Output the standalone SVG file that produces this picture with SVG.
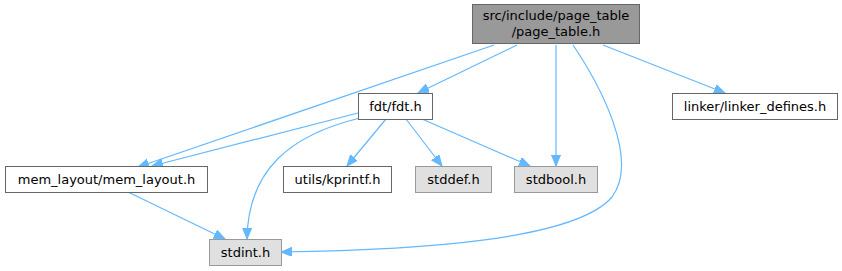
<svg xmlns="http://www.w3.org/2000/svg" width="842" height="271" viewBox="0 0 842 271">
<style>
.e{fill:none;stroke:#63b8ff;stroke-width:1.2;marker-end:url(#ah)}
.n rect{fill:#ffffff;stroke:#666666;stroke-width:1}
.g rect{fill:#e0e0e0;stroke:#999999;stroke-width:1}
.t rect{fill:#999999;stroke:#666666;stroke-width:1}
text{font-family:"DejaVu Sans","Liberation Sans",sans-serif;font-size:13px;fill:#000000;text-anchor:middle}
</style>
<defs>
<marker id="ah" markerUnits="userSpaceOnUse" markerWidth="12" markerHeight="10" refX="11" refY="4.5" orient="auto">
<path d="M0,0 L11,4.5 L0,9 z" fill="#63b8ff" stroke="#63b8ff" stroke-width="1"/>
</marker>
</defs>
<rect width="842" height="271" fill="#ffffff"/>
<g id="edges">
<path class="e" d="M494,45 L138,167"/>
<path class="e" d="M517,45 L418,93"/>
<path class="e" d="M573,45 C600,85 640,160 612,197 C575,240 420,250 281,252"/>
<path class="e" d="M556,45 L556,166"/>
<path class="e" d="M603,45 L725,93"/>
<path class="e" d="M358,113 L152,166"/>
<path class="e" d="M360,118 C290,135 248,170 247,239"/>
<path class="e" d="M386,119 L347,166"/>
<path class="e" d="M406,119 L442,166"/>
<path class="e" d="M422,119 L530,166"/>
<path class="e" d="M128,192 L225,239"/>
</g>
<g id="node_page_table" class="t"><rect x="472.5" y="4.5" width="167" height="39"/><text x="556" y="20">src/include/page_table</text><text x="556" y="36">/page_table.h</text></g>
<g id="node_fdt" class="n"><rect x="358.5" y="93.5" width="74" height="26"/><text x="395.5" y="111">fdt/fdt.h</text></g>
<g id="node_linker" class="n"><rect x="672.5" y="93.5" width="165" height="26"/><text x="755" y="111">linker/linker_defines.h</text></g>
<g id="node_mem_layout" class="n"><rect x="5.5" y="166.5" width="202" height="26"/><text x="106.5" y="184">mem_layout/mem_layout.h</text></g>
<g id="node_kprintf" class="n"><rect x="283.5" y="166.5" width="108" height="26"/><text x="337.5" y="184">utils/kprintf.h</text></g>
<g id="node_stddef" class="g"><rect x="415.5" y="166.5" width="76" height="26"/><text x="453.5" y="184">stddef.h</text></g>
<g id="node_stdbool" class="g"><rect x="514.5" y="166.5" width="83" height="26"/><text x="556" y="184">stdbool.h</text></g>
<g id="node_stdint" class="g"><rect x="209.5" y="239.5" width="72" height="26"/><text x="245.5" y="257">stdint.h</text></g>
</svg>
